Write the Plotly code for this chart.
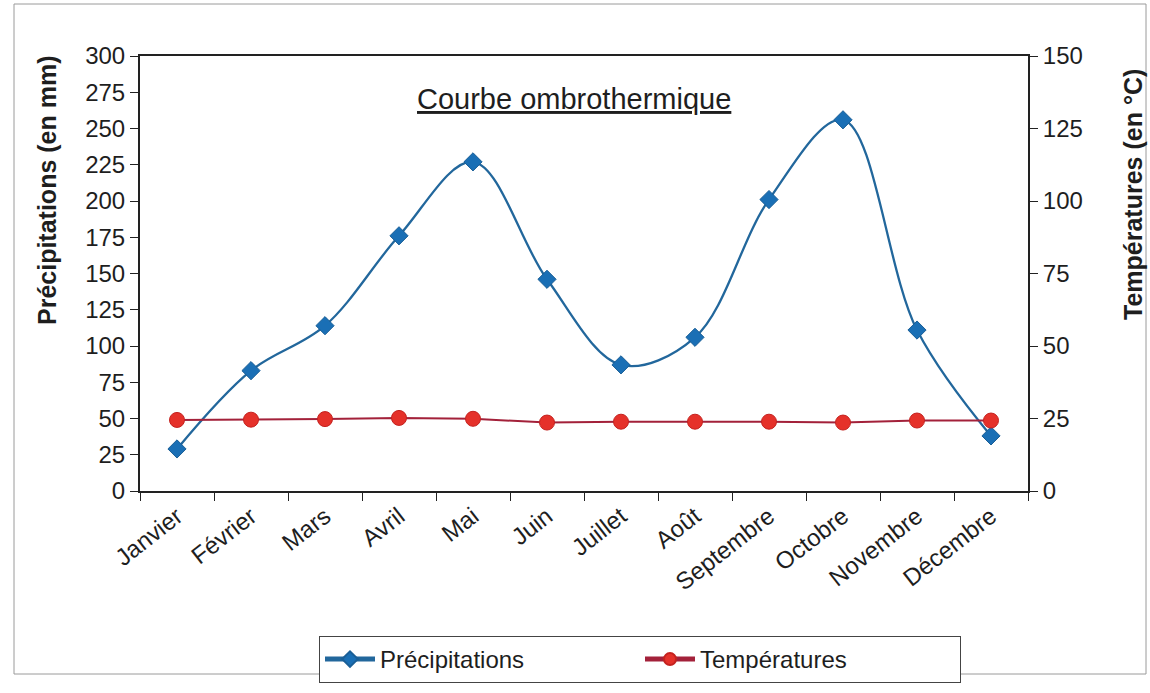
import plotly.graph_objects as go

mois = ["Janvier", "Février", "Mars", "Avril", "Mai", "Juin", "Juillet",
        "Août", "Septembre", "Octobre", "Novembre", "Décembre"]
precipitations = [29, 83, 114, 176, 227, 146, 87, 106, 201, 256, 111, 38]
temperatures = [24.5, 24.6, 24.8, 25.2, 24.9, 23.6, 23.9, 23.9, 23.9, 23.6, 24.3, 24.3]

left_ticks = list(range(0, 301, 25))
right_ticks = list(range(0, 151, 25))

FONT = "Liberation Sans, Arial, sans-serif"

fig = go.Figure()
fig.add_trace(go.Scatter(
    x=mois, y=precipitations, name="Précipitations", mode="lines+markers",
    line=dict(color="#22679c", width=2.3, shape="spline", smoothing=1.0),
    marker=dict(symbol="diamond", size=14, color="#1a6fb5",
                line=dict(color="#1a5f97", width=1)),
    yaxis="y"))
fig.add_trace(go.Scatter(
    x=mois, y=temperatures, name="Températures", mode="lines+markers",
    line=dict(color="#a3213a", width=2),
    marker=dict(symbol="circle", size=15, color="#e5312a",
                line=dict(color="#c4221f", width=1)),
    yaxis="y2"))

ml, mr, mt, mb = 140, 122, 56, 202
W, H = 1150, 693
pw, ph = W - ml - mr, H - mt - mb

def px_x(p):
    return (p - ml) / pw

def px_y(p):
    return (H - mb - p) / ph

fig.update_layout(
    width=W, height=H,
    margin=dict(l=ml, r=mr, t=mt, b=mb, pad=0, autoexpand=False),
    paper_bgcolor="white", plot_bgcolor="white",
    font=dict(family=FONT, size=24, color="#1e1e1e"),
    showlegend=True,
    legend=dict(orientation="h", x=px_x(640), xanchor="center",
                y=px_y(636), yanchor="top",
                bordercolor="#444", borderwidth=1, bgcolor="white",
                font=dict(size=24, family=FONT),
                entrywidth=255, itemwidth=50,
                itemsizing="constant"),
    xaxis=dict(type="category", tickangle=-38, tickson="boundaries",
               ticks="outside", ticklen=8, tickcolor="#222",
               showline=True, linecolor="#222", linewidth=2, mirror=True,
               showgrid=False, tickfont=dict(size=24), automargin=False,
               range=[-0.5, 11.5]),
    yaxis=dict(range=[0, 300], tickvals=left_ticks, ticks="outside",
               ticklen=8, tickcolor="#222", showline=True,
               linecolor="#222", linewidth=2, showgrid=False,
               zeroline=False, tickfont=dict(size=24), automargin=False),
    yaxis2=dict(range=[0, 150], tickvals=right_ticks, overlaying="y",
                side="right", ticks="outside", ticklen=8, tickcolor="#222",
                showline=True, linecolor="#222", linewidth=2,
                showgrid=False, zeroline=False, tickfont=dict(size=24),
                automargin=False),
)

fig.add_annotation(text="<u>Courbe ombrothermique</u>", xref="paper", yref="paper",
                   x=px_x(574), y=px_y(99), xanchor="center", yanchor="middle",
                   showarrow=False,
                   font=dict(size=29, family=FONT, color="#1e1e1e"))
fig.add_annotation(text="<b>Précipitations (en mm)</b>", xref="paper", yref="paper",
                   x=px_x(47), y=px_y(190), xanchor="center", yanchor="middle",
                   textangle=-90, showarrow=False,
                   font=dict(size=25, family=FONT, color="#1e1e1e"))
fig.add_annotation(text="<b>Températures (en °C)</b>", xref="paper", yref="paper",
                   x=px_x(1133), y=px_y(195), xanchor="center", yanchor="middle",
                   textangle=-90, showarrow=False,
                   font=dict(size=25, family=FONT, color="#1e1e1e"))

fig.add_shape(type="rect", xref="paper", yref="paper",
              x0=px_x(14), x1=px_x(1146), y0=px_y(674), y1=px_y(4),
              line=dict(color="#9a9a9a", width=1), layer="below")

fig.write_html("out.html")
